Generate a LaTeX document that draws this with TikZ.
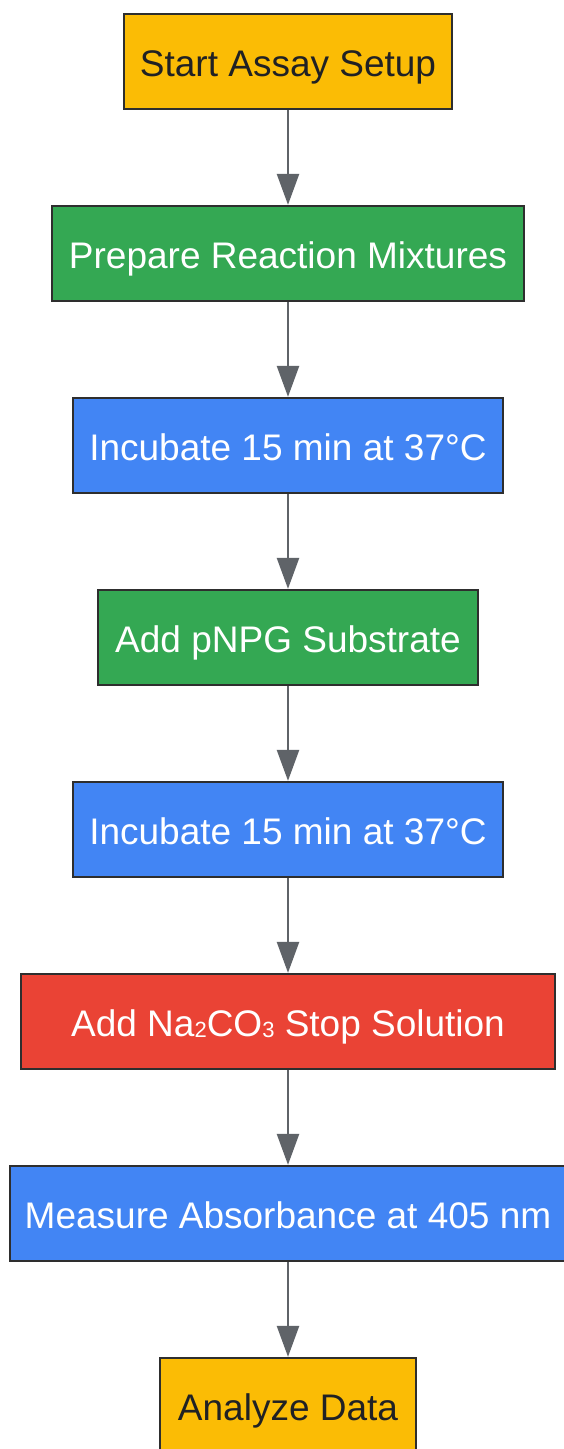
\documentclass[tikz,border=0pt]{standalone}
\usepackage{fontspec}
\setmainfont{Liberation Sans}
\usetikzlibrary{arrows.meta}
\definecolor{cyellow}{HTML}{FBBC05}
\definecolor{cgreen}{HTML}{34A853}
\definecolor{cblue}{HTML}{4285F4}
\definecolor{cred}{HTML}{EA4335}
\definecolor{cborder}{HTML}{2E2E2E}
\definecolor{carrow}{HTML}{5F6368}
\definecolor{cdark}{HTML}{202124}
\newcommand{\subdig}[1]{\raisebox{-1pt}{\fontsize{22}{22}\selectfont #1}}
\begin{document}
\begin{tikzpicture}[x=1pt,y=-1pt,
  stepbox/.style={draw=cborder, line width=2.3pt, rectangle, inner sep=0pt,
    minimum height=95pt, text height=36pt, text depth=6pt,
    font=\fontsize{37}{44}\selectfont, text=white},
  yellowbox/.style={stepbox, fill=cyellow, text=cdark},
  greenbox/.style={stepbox, fill=cgreen},
  bluebox/.style={stepbox, fill=cblue},
  redbox/.style={stepbox, fill=cred},
  flow/.style={draw=carrow, line width=2.5pt, -{Triangle[length=31pt,width=22pt]}}]
\useasboundingbox[fill=white] (0,0) rectangle (564,1449);
\node[yellowbox, minimum width=328pt] (n1) at (288,61.5) {Start Assay Setup};
\node[greenbox, minimum width=472pt] (n2) at (288,253.5) {Prepare Reaction Mixtures};
\node[bluebox, minimum width=430pt] (n3) at (288,445.5) {Incubate 15 min at 37°C};
\node[greenbox, minimum width=380pt] (n4) at (288,637.5) {Add pNPG Substrate};
\node[bluebox, minimum width=430pt] (n5) at (288,829.5) {Incubate 15 min at 37°C};
\node[redbox, minimum width=534pt] (n6) at (288,1021.5) {Add Na\subdig{2}CO\subdig{3} Stop Solution};
\node[bluebox, minimum width=556pt] (n7) at (288,1213.5) {Measure Absorbance at 405 nm};
\node[yellowbox, minimum width=256pt] (n8) at (288,1405.5) {Analyze Data};
\draw[flow] (n1.south) -- (n2.north);
\draw[flow] (n2.south) -- (n3.north);
\draw[flow] (n3.south) -- (n4.north);
\draw[flow] (n4.south) -- (n5.north);
\draw[flow] (n5.south) -- (n6.north);
\draw[flow] (n6.south) -- (n7.north);
\draw[flow] (n7.south) -- (n8.north);
\end{tikzpicture}
\end{document}
